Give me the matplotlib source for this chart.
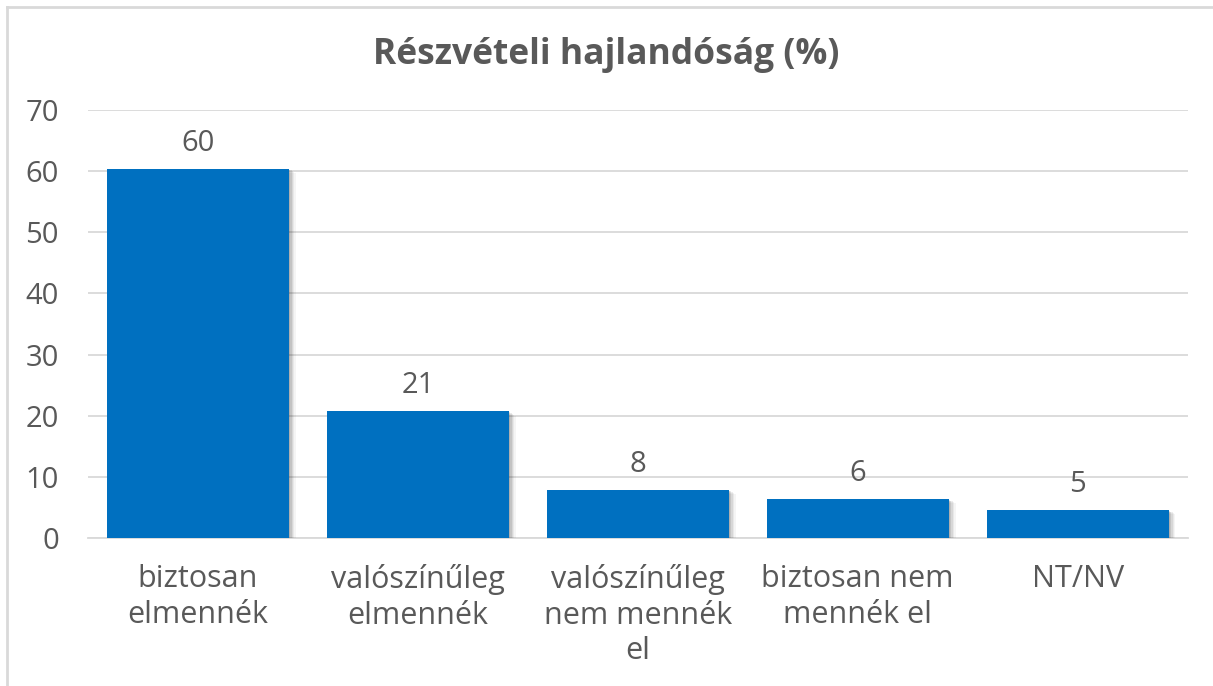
import matplotlib
matplotlib.use("Agg")
import matplotlib.pyplot as plt
import matplotlib.patheffects as pe
from matplotlib.lines import Line2D

categories = ["biztosan\nelmennék", "valószínűleg\nelmennék", "valószínűleg\nnem mennék\nel",
              "biztosan nem\nmennék el", "NT/NV"]
values = [60.4, 20.7, 7.9, 6.4, 4.6]
yticks = [0, 10, 20, 30, 40, 50, 60, 70]
title = "Részvételi hajlandóság (%)"

TXT = "#595959"
BAR = "#0070C0"
GRID = "#D9D9D9"
FONT = ["Open Sans", "DejaVu Sans"]
plt.rcParams["font.family"] = FONT

fig = plt.figure(figsize=(12.13, 6.86), dpi=100)
ax = fig.add_axes([0.0725, 0.2157, 0.9065, 0.624])

# soft shadow imitation: several faint offset layers
shadow = [pe.SimplePatchShadow(offset=(d, -d * 0.6), shadow_rgbFace="#000000", alpha=a)
          for d, a in [(5, 0.04), (4, 0.05), (3, 0.07), (2, 0.09), (1, 0.1)]]
x = list(range(len(categories)))
ax.bar(x, values, width=0.827, color=BAR, zorder=3, path_effects=shadow + [pe.Normal()])
for xi, v in zip(x, values):
    ax.annotate(f"{v:.0f}", (xi, v), xytext=(0, 8), textcoords="offset points",
                ha="center", va="bottom", fontsize=21, color=TXT)

ax.set_ylim(0, 70)
ax.set_xlim(-0.5, len(categories) - 0.5)
ax.set_yticks(yticks)
ax.set_xticks(x)
ax.set_xticklabels(categories, fontsize=22, color=TXT, linespacing=1.24)
ax.tick_params(axis="y", labelsize=21, labelcolor=TXT, length=0, pad=21)
ax.tick_params(axis="x", length=0, pad=19)
ax.yaxis.grid(True, color=GRID, linewidth=1.3, zorder=0)
ax.set_axisbelow(True)
for s in ["top", "right", "left"]:
    ax.spines[s].set_visible(False)
ax.spines["bottom"].set_color(GRID)
ax.spines["bottom"].set_linewidth(1.3)

fig.text(0.5, 0.92, title, ha="center", va="center", fontsize=25.5, fontweight="bold", color=TXT)

fig.lines.append(Line2D([0.0055, 1.0], [0.99, 0.99], transform=fig.transFigure,
                        color="#D9D9D9", linewidth=2))
fig.lines.append(Line2D([0.0055, 0.0055], [0.0, 0.99], transform=fig.transFigure,
                        color="#D9D9D9", linewidth=2))

fig.savefig("out.png", dpi=100, facecolor="white")
